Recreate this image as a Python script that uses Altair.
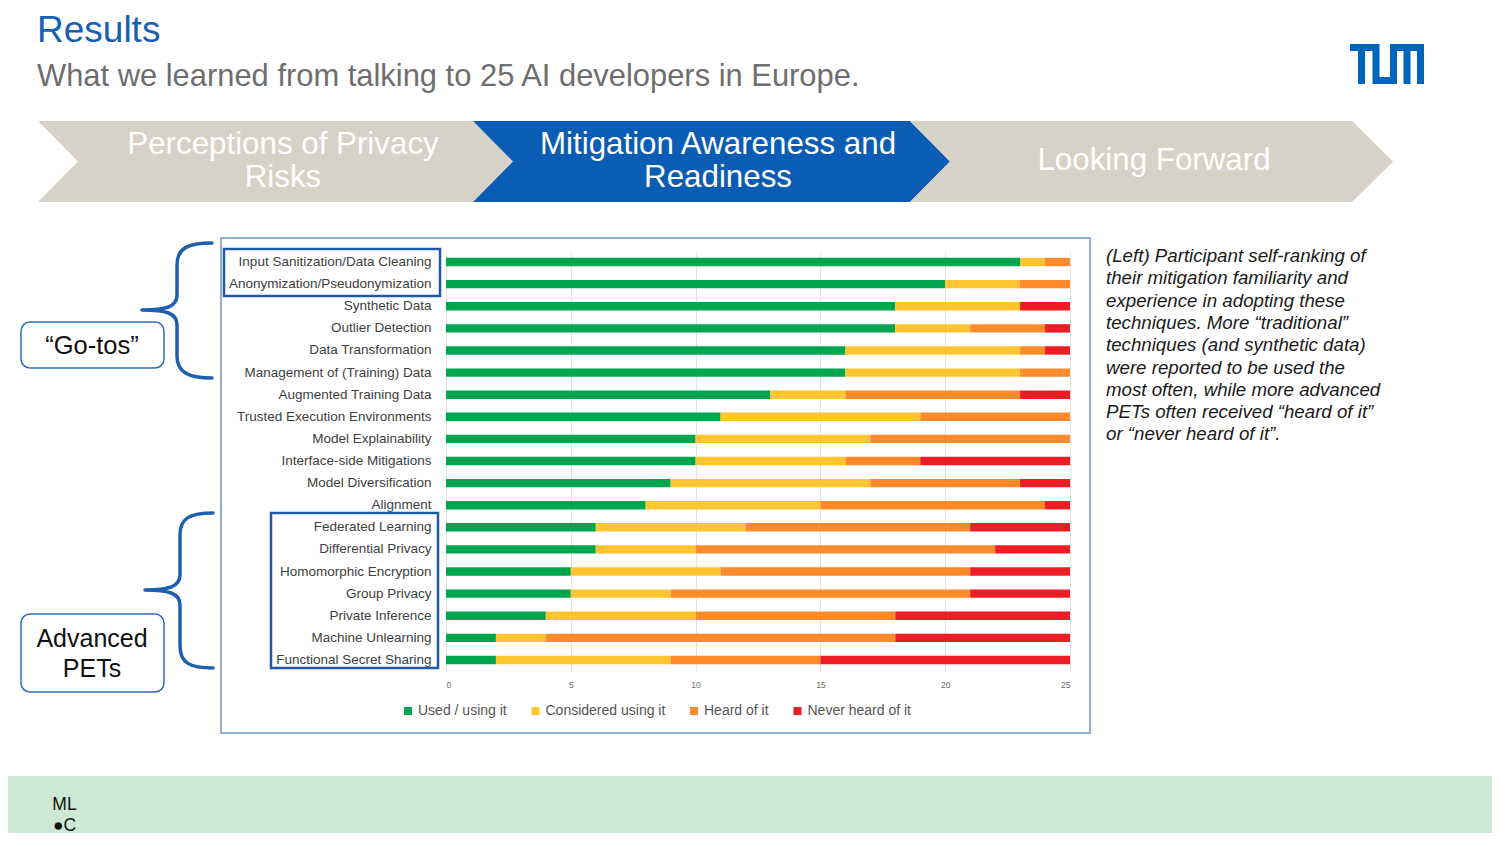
import altair as alt
import pandas as pd

# ---------------- data ----------------
categories = [
    "Input Sanitization/Data Cleaning",
    "Anonymization/Pseudonymization",
    "Synthetic Data",
    "Outlier Detection",
    "Data Transformation",
    "Management of (Training) Data",
    "Augmented Training Data",
    "Trusted Execution Environments",
    "Model Explainability",
    "Interface-side Mitigations",
    "Model Diversification",
    "Alignment",
    "Federated Learning",
    "Differential Privacy",
    "Homomorphic Encryption",
    "Group Privacy",
    "Private Inference",
    "Machine Unlearning",
    "Functional Secret Sharing",
]
used = [23, 20, 18, 18, 16, 16, 13, 11, 10, 10, 9, 8, 6, 6, 5, 5, 4, 2, 2]
considered = [1, 3, 5, 3, 7, 7, 3, 8, 7, 6, 8, 7, 6, 4, 6, 4, 6, 2, 7]
heard = [1, 2, 0, 3, 1, 2, 7, 6, 8, 3, 6, 9, 9, 12, 10, 12, 8, 14, 6]
never = [0, 0, 2, 1, 1, 0, 2, 0, 0, 6, 2, 1, 4, 3, 4, 4, 7, 7, 10]

statuses = ["Used / using it", "Considered using it", "Heard of it", "Never heard of it"]
status_colors = ["#00a54f", "#ffc531", "#fd8b2c", "#ee1c25"]
x_ticks = [0, 5, 10, 15, 20, 25]

title_text = "Results"
subtitle_text = "What we learned from talking to 25 AI developers in Europe."
step_texts = [["Perceptions of Privacy", "Risks"], ["Mitigation Awareness and", "Readiness"], ["Looking Forward"]]
note_lines = [
    "(Left) Participant self-ranking of",
    "their mitigation familiarity and",
    "experience in adopting these",
    "techniques. More \u201ctraditional\u201d",
    "techniques (and synthetic data)",
    "were reported to be used the",
    "most often, while more advanced",
    "PETs often received \u201cheard of it\u201d",
    "or \u201cnever heard of it\u201d.",
]
logo_lines = ["ML", "\u25cfC"]

FONT = "Liberation Sans"
BLUE = "#0a5cb4"
GRAY = "#d6d2c7"

# plot area position on the page
PX, PY = 446, 251
W, H = 624, 420


def rx(x):
    return x - PX


def ry(y):
    return y - PY


rows = []
for i, c in enumerate(categories):
    for j, (s, vals) in enumerate(zip(statuses, [used, considered, heard, never])):
        rows.append({"technique": c, "status": s, "order": j, "count": vals[i]})
df = pd.DataFrame(rows)
one = pd.DataFrame({"k": [0]})


def text_layer(txt, x, y, size, color, align="left", baseline="alphabetic", style="normal", font=FONT, lh=None):
    kw = dict(align=align, baseline=baseline, fontSize=size, color=color, font=font, fontStyle=style)
    if lh:
        kw["lineHeight"] = lh
    return alt.Chart(one).mark_text(**kw).encode(
        x=alt.value(rx(x)), y=alt.value(ry(y)), text=alt.value(txt)
    )


def path_layer(d, fill=None, stroke=None, sw=1.0):
    kw = dict(shape=d, size=4, opacity=1)
    if fill:
        kw.update(filled=True, fill=fill, fillOpacity=1)
    else:
        kw.update(filled=False, fillOpacity=0)
    if stroke:
        kw.update(stroke=stroke, strokeWidth=sw, strokeOpacity=1, strokeCap="round", strokeJoin="round")
    else:
        kw.update(strokeWidth=0)
    return alt.Chart(one).mark_point(**kw).encode(x=alt.value(rx(0)), y=alt.value(ry(0)))


def rect_layer(x1, y1, x2, y2, fill=None, stroke=None, sw=1.0, r=0):
    kw = dict(cornerRadius=r)
    if fill:
        kw.update(fill=fill, fillOpacity=1)
    else:
        kw.update(fill="#ffffff", fillOpacity=0)
    if stroke:
        kw.update(stroke=stroke, strokeWidth=sw)
    return alt.Chart(one).mark_rect(**kw).encode(
        x=alt.value(rx(x1)), x2=alt.value(rx(x2)), y=alt.value(ry(y1)), y2=alt.value(ry(y2))
    )


decor = []
# anchors / background bands (whole drawing kept inside 1484 x 825 to avoid page overflow)
decor.append(rect_layer(8, 8, 9, 9, fill="#ffffff"))
decor.append(rect_layer(8, 776, 1492, 833, fill="#cde9d5"))

# header
decor.append(text_layer(title_text, 37, 42, 37, "#1660b3"))
decor.append(text_layer(subtitle_text, 37, 86, 30.9, "#6e6e6e"))

# TUM logo
logo = (
    "M1350,44 H1379.5 V51 H1350 Z "
    "M1358,44 H1365 V84 H1358 Z "
    "M1372.5,44 H1379.5 V84 H1372.5 Z "
    "M1372.5,77 H1397 V84 H1372.5 Z "
    "M1390,44 H1397 V84 H1390 Z "
    "M1390,44 H1424 V51 H1390 Z "
    "M1403.5,44 H1410.5 V84 H1403.5 Z "
    "M1417,44 H1424 V84 H1417 Z"
)
decor.append(path_layer(logo, fill="#0065bd"))

# chevrons
decor.append(path_layer("M38,121 L473,121 L513,161.5 L473,202 L38,202 L78,161.5 Z", fill=GRAY))
decor.append(path_layer("M473,121 L910,121 L950,161.5 L910,202 L473,202 L513,161.5 Z", fill=BLUE))
decor.append(path_layer("M910,121 L1352,121 L1393,161.5 L1352,202 L910,202 L950,161.5 Z", fill=GRAY))
decor.append(text_layer(step_texts[0][0], 283, 145, 31.3, "#ffffff", align="center", baseline="middle"))
decor.append(text_layer(step_texts[0][1], 283, 178, 31.3, "#ffffff", align="center", baseline="middle"))
decor.append(text_layer(step_texts[1][0], 718, 145, 31.3, "#ffffff", align="center", baseline="middle"))
decor.append(text_layer(step_texts[1][1], 718, 178, 31.3, "#ffffff", align="center", baseline="middle"))
decor.append(text_layer(step_texts[2][0], 1154, 161, 31.3, "#ffffff", align="center", baseline="middle"))

# chart frame
decor.append(rect_layer(221, 238, 1090, 733, stroke="#93aed6", sw=2))
# label boxes
decor.append(rect_layer(224, 249, 440, 296, stroke="#1f5aa6", sw=2.5))
decor.append(rect_layer(271, 513, 438, 668, stroke="#1f5aa6", sw=2.5))

# braces
brace1 = ("M212,243 C188,243 177,248 177,265 L177,295 C177,307 166,310 142,310 "
          "C166,310 177,313 177,325 L177,356 C177,372 188,378 212,378")
brace2 = ("M213,513 C190,513 180,518 180,535 L180,575 C180,587 168,590 145,590 "
          "C168,590 180,593 180,605 L180,646 C180,663 190,668 213,668")
decor.append(path_layer(brace1, stroke="#1f5fb0", sw=3.5))
decor.append(path_layer(brace2, stroke="#1f5fb0", sw=3.5))

# callout boxes
decor.append(rect_layer(21, 322, 164, 368, fill="#ffffff", stroke="#2f6eb5", sw=1.5, r=9))
decor.append(rect_layer(21, 614, 164, 692, fill="#ffffff", stroke="#2f6eb5", sw=1.5, r=9))
decor.append(text_layer("\u201cGo-tos\u201d", 92, 346, 25.5, "#111111", align="center", baseline="middle"))
decor.append(text_layer("Advanced", 92, 639, 25, "#111111", align="center", baseline="middle"))
decor.append(text_layer("PETs", 92, 669, 25, "#111111", align="center", baseline="middle"))

# right note
for k, line in enumerate(note_lines):
    decor.append(text_layer(line, 1106, 256 + k * 22.3, 18.7, "#1a1a1a", baseline="middle", style="italic"))

# ML.C logo (one two-line text)
decor.append(text_layer(logo_lines, 64.5, 810, 17.5, "#111111", align="center", lh=20.5))

# ---------------- stacked bars ----------------
bars = alt.Chart(df).mark_bar().encode(
    x=alt.X(
        "count:Q",
        stack="zero",
        scale=alt.Scale(domain=[0, 25], nice=False),
        axis=alt.Axis(
            values=x_ticks, title=None, grid=True, gridColor="#e3e3e3", gridWidth=1,
            domain=False, ticks=False, tickSize=0, labelFontSize=8.5, labelColor="#6a6a6a",
            labelPadding=9, labelFont=FONT,
        ),
    ),
    y=alt.Y(
        "technique:N",
        sort=categories,
        scale=alt.Scale(paddingInner=0.62, paddingOuter=0.31),
        axis=alt.Axis(
            title=None, ticks=False, tickSize=0, domain=False, labelFontSize=13.5,
            labelColor="#404040", labelPadding=15, labelLimit=400, labelFont=FONT,
        ),
    ),
    color=alt.Color(
        "status:N",
        scale=alt.Scale(domain=statuses, range=status_colors),
        legend=alt.Legend(
            title=None, orient="none", legendX=rx(401), legendY=ry(704), direction="horizontal",
            symbolType="square", symbolSize=64, symbolStrokeWidth=0, labelFontSize=14,
            labelColor="#555555", columnPadding=21.5, labelOffset=3, padding=0, labelFont=FONT,
        ),
    ),
    order=alt.Order("order:Q", sort="ascending"),
    tooltip=["technique:N", "status:N", "count:Q"],
)

chart = (
    alt.layer(*decor, bars)
    .properties(width=W, height=H, padding=0, background="#ffffff")
    .configure(font=FONT)
    .configure_view(strokeWidth=0)
)

chart.save("out.html", embed_options={"renderer": "svg", "actions": False})
